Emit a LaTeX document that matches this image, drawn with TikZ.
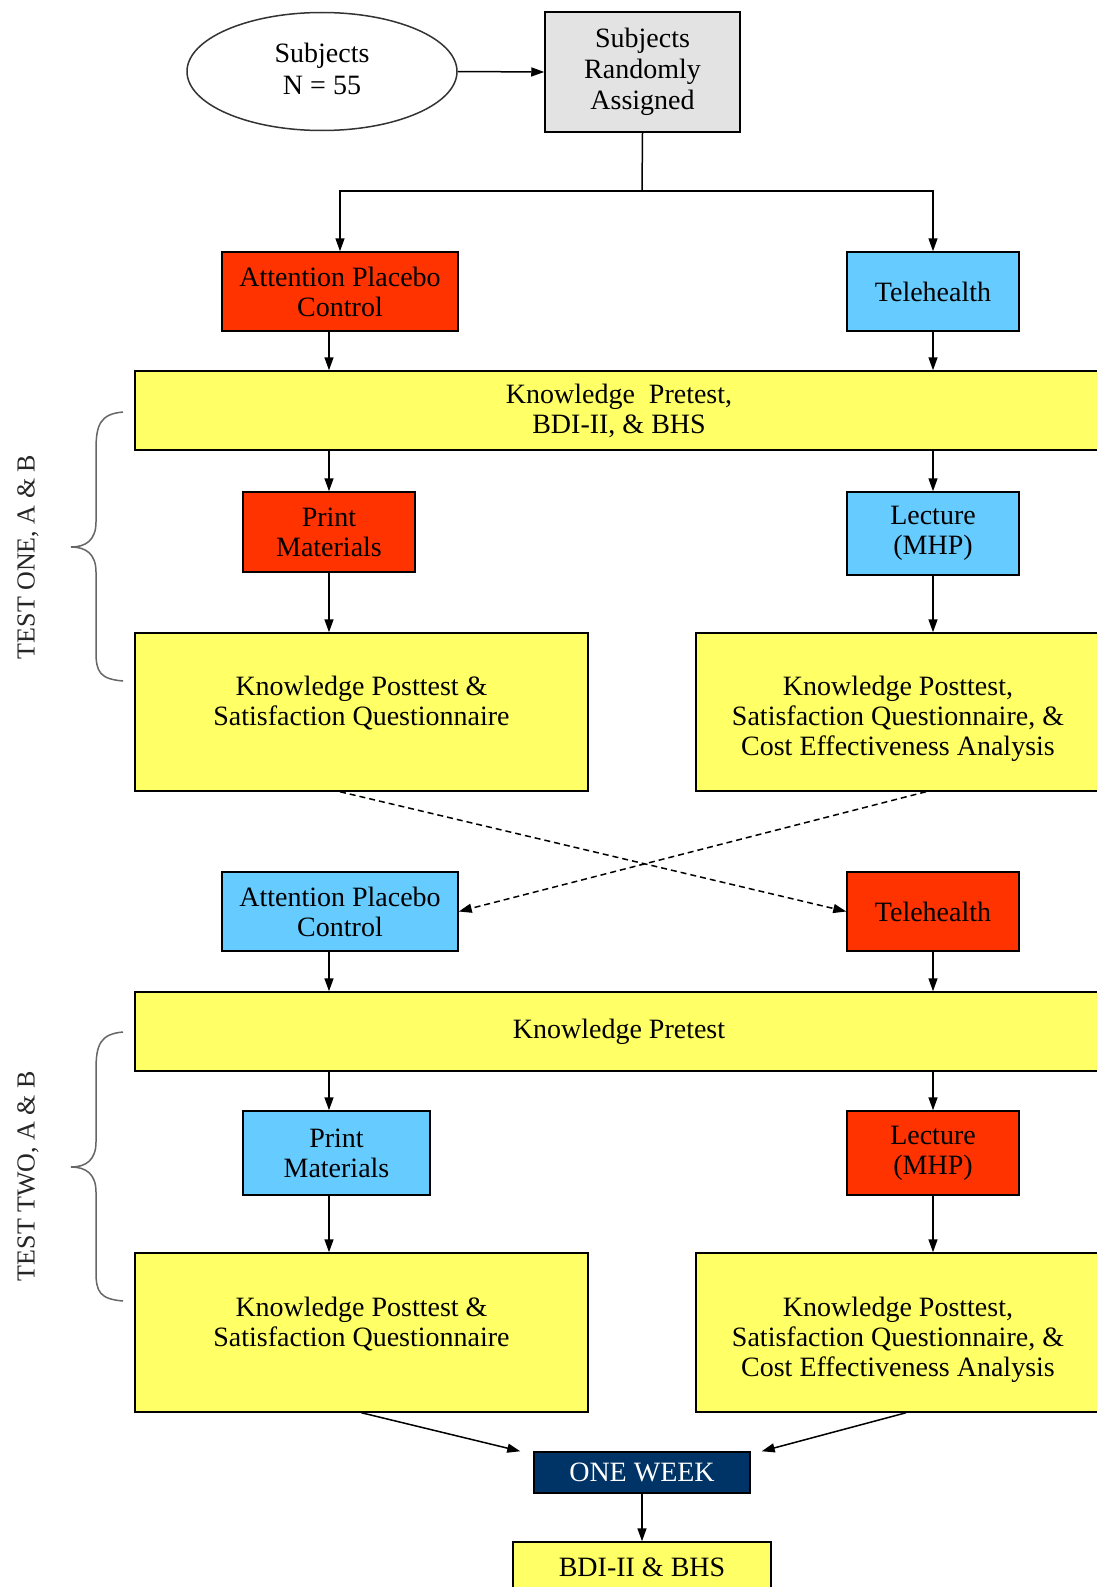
\documentclass[tikz,border=0pt]{standalone}
\usepackage{fontspec}
\setmainfont{Liberation Serif}
\usetikzlibrary{shapes.geometric, arrows.meta}
\definecolor{boxred}{HTML}{FF3300}
\definecolor{boxblue}{HTML}{66CCFF}
\definecolor{boxyellow}{HTML}{FFFF66}
\definecolor{boxgray}{HTML}{E3E3E3}
\definecolor{boxnavy}{HTML}{003366}
\tikzset{
  box/.style={draw=black, line width=1.5pt, align=center, inner sep=0pt, font=\fontsize{28}{30}\selectfont},
  redbox/.style={box, fill=boxred},
  bluebox/.style={box, fill=boxblue},
  yelbox/.style={box, fill=boxyellow},
  arr/.style={line width=1.5pt, -{Triangle[length=13pt,width=9pt]}},
  brace/.style={line width=1.5pt, draw=black!60},
  testlabel/.style={rotate=90, font=\fontsize{26}{28}\selectfont, text=black!85},
}

\begin{document}
\begin{tikzpicture}[x=1pt,y=-1pt]
\useasboundingbox[fill=white] (0,0) rectangle (1096,1587);
\node[ellipse, draw=black!80, line width=1.5pt, fill=white, inner sep=0pt, minimum width=270pt, minimum height=118pt, align=center, font=\fontsize{28}{32}\selectfont] (subj) at (322,71.5) {Subjects\\N = 55\rule[-6pt]{0pt}{0pt}};
\node[box, fill=boxgray, minimum width=195pt, minimum height=120pt, font=\fontsize{28}{31}\selectfont] (rand) at (642.5,72) {Subjects\\Randomly\\Assigned};
\coordinate (split) at (642,191);
\coordinate (lcol) at (329,0);
\node[redbox, minimum width=236pt, minimum height=79pt] (apc1) at (340,291.5) {Attention Placebo\\Control};
\node[bluebox, minimum width=172pt, minimum height=79pt] (tele1) at (933,291.5) {Telehealth};
\node[yelbox, minimum width=968pt, minimum height=79pt] (pre1) at (619,410.5) {Knowledge\ \ Pretest,\\BDI-II, \& BHS};
\node[redbox, minimum width=172pt, minimum height=80pt] (pm1) at (329,532) {Print\\Materials};
\node[bluebox, minimum width=172pt, minimum height=83pt] (lec1) at (933,533.5) {Lecture\\(MHP)};
\node[yelbox, minimum width=453pt, minimum height=158pt] (post1L) at (361.5,712) {\rule{0pt}{36pt}Knowledge Posttest \&\\Satisfaction Questionnaire\\\strut};
\node[yelbox, minimum width=404pt, minimum height=158pt] (post1R) at (898,712) {\rule{0pt}{34pt}Knowledge Posttest,\\Satisfaction Questionnaire, \&\\Cost Effectiveness Analysis};
\node[bluebox, minimum width=236pt, minimum height=79pt] (apc2) at (340,911.5) {Attention Placebo\\Control};
\node[redbox, minimum width=172pt, minimum height=79pt] (tele2) at (933,911.5) {Telehealth};
\node[yelbox, minimum width=968pt, minimum height=79pt] (pre2) at (619,1031.5) {Knowledge Pretest};
\node[bluebox, minimum width=187pt, minimum height=84pt] (pm2) at (336.5,1153) {Print\\Materials};
\node[redbox, minimum width=172pt, minimum height=84pt] (lec2) at (933,1153) {Lecture\\(MHP)};
\node[yelbox, minimum width=453pt, minimum height=159pt] (post2L) at (361.5,1332.5) {\rule{0pt}{36pt}Knowledge Posttest \&\\Satisfaction Questionnaire\\\strut};
\node[yelbox, minimum width=404pt, minimum height=159pt] (post2R) at (898,1332.5) {\rule{0pt}{34pt}Knowledge Posttest,\\Satisfaction Questionnaire, \&\\Cost Effectiveness Analysis};
\node[box, fill=boxnavy, text=white, minimum width=216pt, minimum height=41pt] (week) at (642,1472.5) {ONE WEEK};
\node[yelbox, minimum width=258pt, minimum height=50pt] (bdi) at (642,1567) {BDI-II \& BHS};
\draw[arr] (subj.east) -- (rand.west);
\draw[line width=1.5pt] (rand.south) -- (split);
\draw[arr] (split) -| (apc1.north);
\draw[arr] (split) -| (tele1.north);
\draw[arr] (apc1.south -| lcol) -- (pre1.north -| lcol);
\draw[arr] (tele1.south) -- (pre1.north -| tele1.south);
\draw[arr] (pre1.south -| pm1.north) -- (pm1.north);
\draw[arr] (pre1.south -| lec1.north) -- (lec1.north);
\draw[arr] (pm1.south) -- (post1L.north -| pm1.south);
\draw[arr] (lec1.south) -- (post1R.north -| lec1.south);
\draw[arr, dash pattern=on 6pt off 4pt] (post1L.south -| apc2.north) -- (tele2.west);
\draw[arr, dash pattern=on 6pt off 4pt] ([xshift=-7pt]post1R.south -| tele2.north) -- (apc2.east);
\draw[arr] (apc2.south -| lcol) -- (pre2.north -| lcol);
\draw[arr] (tele2.south) -- (pre2.north -| tele2.south);
\draw[arr] (pre2.south -| lcol) -- (pm2.north -| lcol);
\draw[arr] (pre2.south -| lec2.north) -- (lec2.north);
\draw[arr] (pm2.south -| lcol) -- (post2L.north -| lcol);
\draw[arr] (lec2.south) -- (post2R.north -| lec2.south);
\draw[arr] (post2L.south) -- ([xshift=-13pt]week.north west);
\draw[arr] ([xshift=8pt]post2R.south) -- ([xshift=11pt]week.north east);
\draw[arr] (week.south) -- (bdi.north);
\draw[brace] (123,412) .. controls (100,414) and (96,425) .. (96,450) -- (96,522) .. controls (96,540) and (86,547) .. (71,547) .. controls (86,547) and (96,554) .. (96,572) -- (96,652) .. controls (96,672) and (100,679) .. (123,681);
\draw[brace] (123,1032) .. controls (100,1034) and (96,1045) .. (96,1070) -- (96,1142) .. controls (96,1160) and (86,1167) .. (71,1167) .. controls (86,1167) and (96,1174) .. (96,1192) -- (96,1272) .. controls (96,1292) and (100,1299) .. (123,1301);
\node[testlabel] (test1) at (28,557) {TEST ONE, A \& B};
\node[testlabel] (test2) at (28,1176) {TEST TWO, A \& B};
\end{tikzpicture}
\end{document}
